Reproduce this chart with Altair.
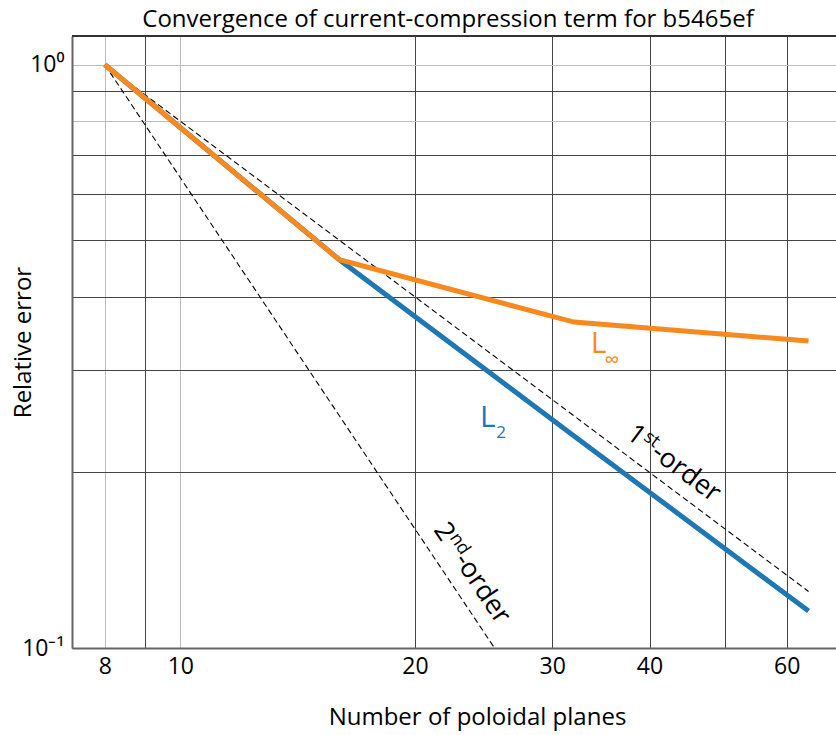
import altair as alt
import pandas as pd

# ---- data ----
planes = [8, 16, 32, 64]
err_l2 = [1.0, 0.463, 0.231, 0.1157]
err_linf = [1.0, 0.463, 0.362, 0.336]

first_order_x = [8, 64]
first_order_y = [1.0, 0.125]
second_order_x = [8, 25.3]
second_order_y = [1.0, 0.1]

x_grid = [8, 9, 10, 20, 30, 40, 50, 60]
y_grid = [0.1, 0.2, 0.3, 0.4, 0.5, 0.6, 0.7, 0.8, 0.9, 1.0]

# annotation anchors (data coordinates)
norm_text = ["L", "\u221e", "L", "2"]
norm_x = [34.4, 35.8, 24.8, 25.8]
norm_y = [0.332, 0.311, 0.248, 0.234]
norm_color = ["#f7891f", "#f7891f", "#1f77b4", "#1f77b4"]
norm_size = [30, 21, 30, 17]

order_pieces = [["1", "st", "-order"], ["2", "nd", "-order"]]
order_x = [37.2, 21.1]
order_y = [0.230, 0.1594]
order_angle = [37, 56]

W, H = 764, 612
FONT = "Open Sans"
MAIN = 27
SUP = 18

xdom = [7.26, 69.4]
ydom = [0.1, 1.12]

df = pd.DataFrame({"N": planes * 2,
                   "err": err_l2 + err_linf,
                   "norm": ["L2"] * 4 + ["Linf"] * 4})
ref = pd.DataFrame({"N": first_order_x + second_order_x,
                    "err": first_order_y + second_order_y,
                    "order": ["first"] * 2 + ["second"] * 2})

light_x = "datum.value == 8 || datum.value == 10"
light_y = "datum.value == 1 || datum.value == 0.8"

x_enc = alt.X("N:Q",
              scale=alt.Scale(type="log", domain=xdom, nice=False),
              axis=alt.Axis(values=x_grid,
                            labelExpr="(datum.value == 9 || datum.value == 50) ? '' : format(datum.value, 'd')",
                            title="Number of poloidal planes",
                            titleX=405, titleY=76, titleBaseline="alphabetic",
                            titleAlign="center",
                            titleFontSize=24, titleFontWeight="normal",
                            labelFontSize=23, labelPadding=7,
                            ticks=False,
                            grid=True,
                            gridColor={"condition": {"test": light_x, "value": "#bdbdbd"}, "value": "#444444"},
                            gridWidth=1,
                            domainColor="#666666", domainWidth=2))
y_enc = alt.Y("err:Q",
              scale=alt.Scale(type="log", domain=ydom, nice=False),
              axis=alt.Axis(values=y_grid,
                            labelExpr="datum.value == 1 ? '10\u2070' : (datum.value == 0.1 ? '10\u207b\u00b9' : '')",
                            title="Relative error",
                            titleX=-42, titleY=306, titleBaseline="alphabetic",
                            titleAlign="center", titleAngle=270,
                            titleFontSize=24, titleFontWeight="normal",
                            labelFontSize=23, labelPadding=8,
                            ticks=False,
                            grid=True,
                            gridColor={"condition": {"test": light_y, "value": "#bdbdbd"}, "value": "#444444"},
                            gridWidth=1,
                            domainColor="#666666", domainWidth=2))

refs = alt.Chart(ref).mark_line(color="black", strokeWidth=1.1, strokeDash=[6, 3.5]).encode(
    x=x_enc, y=y_enc, detail="order:N")

lines = alt.Chart(df).mark_line(strokeWidth=5).encode(
    x=x_enc, y=y_enc,
    color=alt.Color("norm:N", scale=alt.Scale(domain=["L2", "Linf"], range=["#1f77b4", "#f7891f"]), legend=None),
    order=alt.Order("N:Q"))

top_frame = alt.Chart(ref).mark_rule(color="#333333", strokeWidth=1.5).encode(
    x=alt.value(0), x2=alt.value(W), y=alt.value(0))

layers = [refs, lines, top_frame]

for i in range(len(norm_text)):
    d = pd.DataFrame({"t": [norm_text[i]], "N": [norm_x[i]], "err": [norm_y[i]]})
    layers.append(alt.Chart(d).mark_text(
        font=FONT, fontSize=norm_size[i], color=norm_color[i],
        align="center", baseline="middle").encode(x="N:Q", y="err:Q", text="t:N"))

# piece offsets along rotated baseline: main digit, raised suffix, rest
piece_dx = [0, 15.5, 15.5]
piece_dy = [0, -9, 0]
piece_size = [MAIN, SUP, MAIN]
suffix_w = [15.5, 21]
for k in range(2):
    d = pd.DataFrame({"N": [order_x[k]], "err": [order_y[k]]})
    dxs = [0, piece_dx[1], piece_dx[2] + suffix_w[k]]
    for j in range(3):
        layers.append(alt.Chart(d).mark_text(
            font=FONT, fontSize=piece_size[j], angle=order_angle[k],
            dx=dxs[j], dy=piece_dy[j], text=order_pieces[k][j],
            color="black", align="left", baseline="alphabetic").encode(x="N:Q", y="err:Q"))

chart = alt.layer(*layers).properties(
    width=W, height=H,
    title=alt.TitleParams("Convergence of current-compression term for b5465ef",
                          fontSize=24, font=FONT, fontWeight="normal",
                          anchor="middle", offset=3, dx=-6, color="black"),
    autosize=alt.AutoSizeParams(type="none"),
    padding={"left": 72, "top": 36, "right": 0, "bottom": 87},
).configure(font=FONT).configure_view(stroke=None).configure_axis(
    labelFont=FONT, titleFont=FONT, labelColor="black", titleColor="black")

chart.save("out.html", embed_options={"renderer": "svg", "actions": False})
